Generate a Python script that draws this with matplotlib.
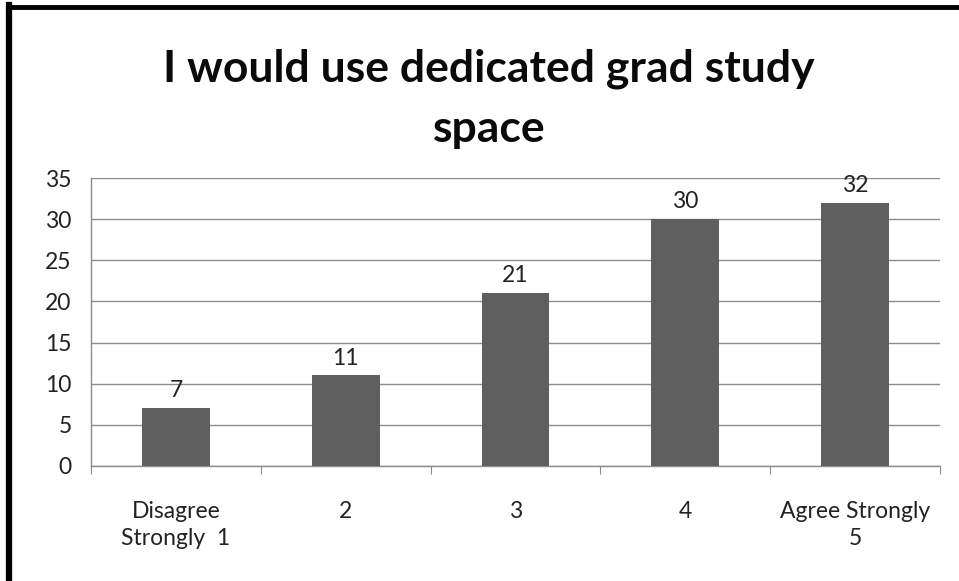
import matplotlib
matplotlib.use("Agg")
import matplotlib.pyplot as plt
from matplotlib.lines import Line2D
import numpy as np

# Survey responses per agreement level.
categories = ["Disagree\nStrongly  1", "2", "3", "4", "Agree Strongly\n5"]
counts = [7, 11, 21, 30, 32]
y_ticks = [0, 5, 10, 15, 20, 25, 30, 35]

plt.rcParams["font.family"] = ["Lato", "DejaVu Sans"]

fig = plt.figure(figsize=(9.59, 5.81), dpi=100)
ax = fig.add_axes([0.0949, 0.198, 0.8853, 0.4956])

x = np.arange(len(categories))
bars = ax.bar(x, counts, width=0.4, color="#5f5f5f", zorder=3)

# Value labels above each bar.
for xi, v in zip(x, counts):
    ax.annotate(str(v), (xi, v), xytext=(0, 5), textcoords="offset points",
                ha="center", va="bottom", fontsize=16.5, color="#222222")

ax.set_xlim(-0.5, len(categories) - 0.5)
ax.set_ylim(0, 35)
ax.set_yticks(y_ticks)
ax.yaxis.grid(True, color="#8c8c8c", lw=1, zorder=0)

# Ticks sit between categories, labels under the bars.
ax.set_xticks(np.arange(len(categories) + 1) - 0.5)
ax.set_xticklabels([])
ax.set_xticks(x, minor=True)
ax.set_xticklabels(categories, minor=True, fontsize=16.5, color="#222222",
                   linespacing=1.35)
ax.tick_params(axis="x", which="minor", length=0, pad=25)
ax.tick_params(axis="x", which="major", length=6, color="#8c8c8c", direction="out")
ax.tick_params(axis="y", length=0, labelsize=16.5, labelcolor="#222222", pad=14)

for side in ["top", "right"]:
    ax.spines[side].set_visible(False)
for side in ["left", "bottom"]:
    ax.spines[side].set_color("#8c8c8c")
    ax.spines[side].set_linewidth(1)

fig.text(0.51, 0.830, "I would use dedicated grad study\nspace", ha="center",
         va="center", fontsize=32, fontweight="bold", linespacing=1.6,
         color="#0a0a0a")

# Black frame along the left and top edges.
fig.add_artist(Line2D([0.0099, 0.0099], [0, 0.992], transform=fig.transFigure,
                      color="black", lw=4.5, solid_capstyle="projecting"))
fig.add_artist(Line2D([0.0099, 1.0], [0.9885, 0.9885], transform=fig.transFigure,
                      color="black", lw=3.5))

fig.savefig("out.png", dpi=100)
